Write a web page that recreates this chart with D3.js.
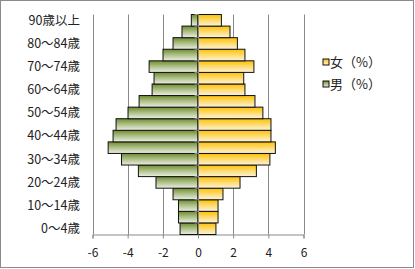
<!DOCTYPE html>
<meta charset="utf-8">
<style>
  body { margin: 0; background: #fff; }
  text { font-family: "Noto Sans CJK JP", "Noto Sans", sans-serif; fill: #222; }
</style>
<div id="chart"></div>
<script src="https://cdn.jsdelivr.net/npm/d3@7"></script>
<script>

// age groups, bottom to top
var categories = ["0～4歳","5～9歳","10～14歳","15～19歳","20～24歳","25～29歳","30～34歳",
  "35～39歳","40～44歳","45～49歳","50～54歳","55～59歳","60～64歳","65～69歳",
  "70～74歳","75～79歳","80～84歳","85～89歳","90歳以上"];
var male = [-1.02,-1.11,-1.11,-1.42,-2.39,-3.39,-4.35,-5.11,-4.83,-4.66,-3.98,-3.35,-2.61,-2.5,-2.78,-1.99,-1.42,-0.91,-0.38];
var female = [1.02,1.14,1.14,1.42,2.39,3.32,4.09,4.4,4.15,4.15,3.69,3.24,2.67,2.6,3.18,2.67,2.24,1.82,1.33];
var xTicks = [-6,-4,-2,0,2,4,6];
var legendNames = ["女（%）","男（%）"];

var width = 415, height = 269;

var svg = d3.select("#chart").append("svg")
    .attr("width", width)
    .attr("height", height);

// outer frame
svg.append("rect")
  .attr("x", 0.5).attr("y", 0.5)
  .attr("width", 413).attr("height", 267)
  .attr("fill", "#fff").attr("stroke", "#8a8a8a");

var defs = svg.append("defs");
function grad(id, top, mid, bottom) {
  var g = defs.append("linearGradient").attr("id", id)
    .attr("x1", 0).attr("y1", 0).attr("x2", 0).attr("y2", 1);
  g.append("stop").attr("offset", "0%").attr("stop-color", top);
  g.append("stop").attr("offset", "45%").attr("stop-color", mid);
  g.append("stop").attr("offset", "100%").attr("stop-color", bottom);
}
grad("gMale", "#6f8c2c", "#a9bd82", "#eceee6");
grad("gFemale", "#ffbf00", "#ffd966", "#fbf3dc");

var x = d3.scaleLinear().domain([-6, 6]).range([92.5, 303.5]);
var y = d3.scaleBand().domain(categories.slice().reverse()).range([14.5, 234.5]).padding(0);

// gridlines
svg.append("g").selectAll("line")
  .data(xTicks.filter(function(d) { return d != 0; }))
  .enter().append("line")
    .attr("x1", function(d) { return Math.round(x(d)) + 0.5; })
    .attr("x2", function(d) { return Math.round(x(d)) + 0.5; })
    .attr("y1", 14.5).attr("y2", 234.5)
    .attr("stroke", "#8a8a8a");

// bottom axis
var xAxis = svg.append("g")
  .attr("transform", "translate(0,234.5)")
  .call(d3.axisBottom(x).tickValues(xTicks).tickSize(4).tickPadding(10)
    .tickFormat(function(d) { return String(d); }));
xAxis.select(".domain").attr("stroke", "#8a8a8a");
xAxis.selectAll("line").attr("stroke", "#8a8a8a");
xAxis.selectAll("text").attr("font-size", 12).style("font-family", "'Noto Sans CJK JP'").attr("fill", "#222");

// bars
svg.append("g").selectAll("rect")
  .data(categories)
  .enter().append("rect")
    .attr("x", function(d, i) { return x(male[i]); })
    .attr("y", function(d) { return y(d); })
    .attr("width", function(d, i) { return x(0) - x(male[i]); })
    .attr("height", y.bandwidth())
    .attr("fill", "url(#gMale)")
    .attr("stroke", "#111").attr("stroke-width", 1);

svg.append("g").selectAll("rect")
  .data(categories)
  .enter().append("rect")
    .attr("x", x(0))
    .attr("y", function(d) { return y(d); })
    .attr("width", function(d, i) { return x(female[i]) - x(0); })
    .attr("height", y.bandwidth())
    .attr("fill", "url(#gFemale)")
    .attr("stroke", "#111").attr("stroke-width", 1);

// category axis at zero
var yAxis = svg.append("g")
  .attr("transform", "translate(" + (Math.round(x(0)) + 0.5) + ",0)");
yAxis.append("line")
  .attr("y1", 14.5).attr("y2", 234.5)
  .attr("stroke", "#8a8a8a");
yAxis.selectAll("line.tk")
  .data(categories)
  .enter().append("line")
    .attr("class", "tk")
    .attr("x1", -4).attr("x2", 0)
    .attr("y1", function(d) { return y(d); })
    .attr("y2", function(d) { return y(d); })
    .attr("stroke", "#8a8a8a");

// category labels (every other one)
svg.append("g").selectAll("text")
  .data(categories.filter(function(d, i) { return i % 2 == 0; }))
  .enter().append("text")
    .attr("x", 80)
    .attr("y", function(d) { return y(d) + y.bandwidth() / 2; })
    .attr("dy", "0.35em")
    .attr("text-anchor", "end")
    .attr("font-size", 12.5)
    .text(function(d) { return d; });

// legend
var legend = svg.append("g").selectAll("g")
  .data(legendNames)
  .enter().append("g")
    .attr("transform", function(d, i) { return "translate(323," + (59 + i * 22) + ")"; });
legend.append("rect")
  .attr("width", 6).attr("height", 6)
  .attr("fill", function(d, i) { return i == 0 ? "url(#gFemale)" : "url(#gMale)"; })
  .attr("stroke", "#111");
legend.append("text")
  .attr("x", 7).attr("y", 3)
  .attr("dy", "0.35em")
  .attr("font-size", 13)
  .text(function(d) { return d; });

</script>
